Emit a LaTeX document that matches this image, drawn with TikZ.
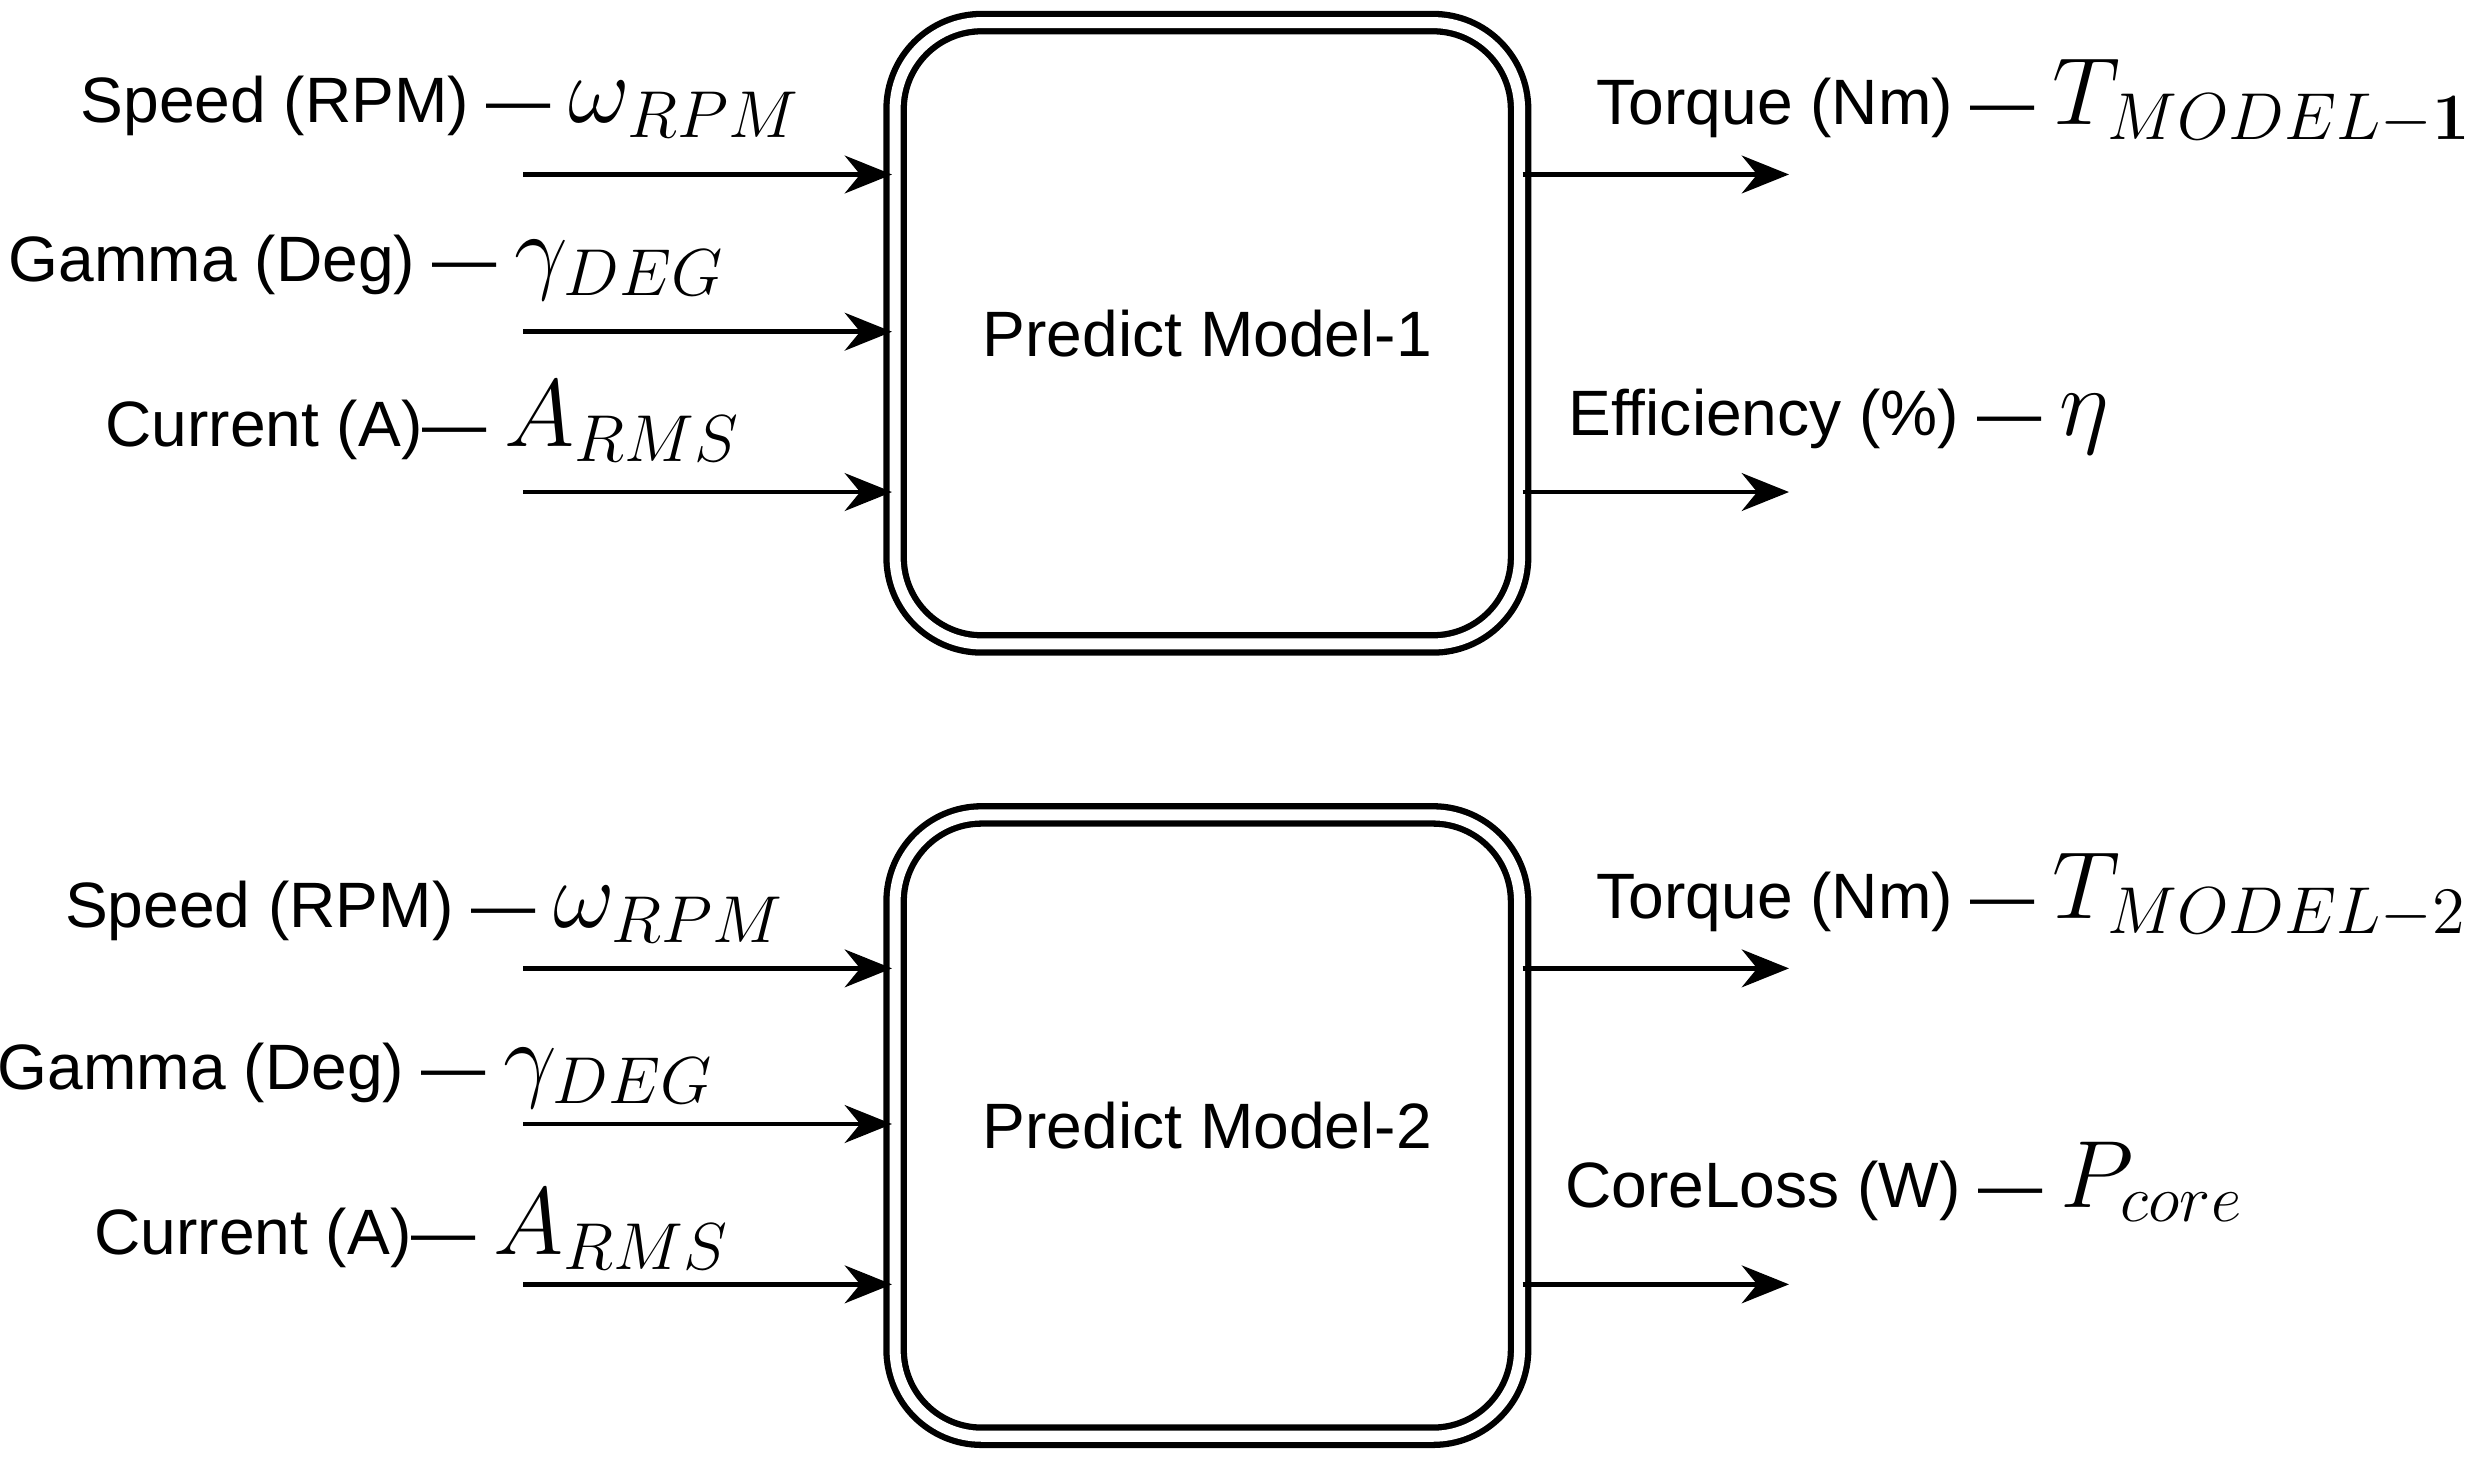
\documentclass[tikz,border=0pt]{standalone}
\usepackage{amsmath}
\usepackage{fontspec}
\setmainfont{Liberation Sans}
\usetikzlibrary{positioning}
\usetikzlibrary{arrows.meta}
\newcommand{\mth}[1]{{\fontsize{17.5}{20}\selectfont$#1$}}

\begin{document}
\begin{tikzpicture}[x=0.01cm, y=-0.01cm,
    box/.style={draw, rounded corners=0.55cm, double=white, double distance=0.07cm, line width=0.04cm, minimum width=3.97cm, minimum height=3.95cm, font=\fontsize{11.6}{14}\selectfont},
    lbl/.style={anchor=east, inner sep=0pt, font=\fontsize{11.6}{14}\selectfont},
    rlbl/.style={anchor=west, inner sep=0pt, font=\fontsize{11.6}{14}\selectfont},
    arr/.style={-{Stealth[length=0.3cm, width=0.24cm]}, line width=0.03cm}]
    \useasboundingbox (0,0) rectangle (1568,943);

    % model 1
    \node[box] (m1) at (768, 212) {Predict Model-1};
    \coordinate (a1) at (333, 111);
    \coordinate (b1) at (333, 211);
    \coordinate (c1) at (333, 313);
    \coordinate (t1) at (1138, 111);
    \coordinate (e1) at (1138, 313);
    \draw[arr] (a1) -- (a1 -| m1.west);
    \draw[arr] (b1) -- (b1 -| m1.west);
    \draw[arr] (c1) -- (c1 -| m1.west);
    \draw[arr] (t1 -| m1.east) -- (t1);
    \draw[arr] (e1 -| m1.east) -- (e1);
    \node[lbl] (la1) at (510, 68) {Speed (RPM) --- \mth{\omega_{RPM}}};
    \node[lbl] (lb1) at (462, 170) {Gamma (Deg) --- \mth{\gamma_{DEG}}};
    \node[lbl] (lc1) at (472, 268) {Current (A)--- \mth{A_{RMS}}};
    \node[rlbl] (lt1) at (1015, 65) {Torque (Nm) --- \mth{T_{MODEL-\boldsymbol{1}}}};
    \node[rlbl] (le1) at (997, 268) {Efficiency (\%) --- \mth{\eta}};

    % model 2
    \node[box] (m2) at (768, 716) {Predict Model-2};
    \coordinate (a2) at (333, 616);
    \coordinate (b2) at (333, 715);
    \coordinate (c2) at (333, 817);
    \coordinate (t2) at (1138, 616);
    \coordinate (p2) at (1138, 817);
    \draw[arr] (a2) -- (a2 -| m2.west);
    \draw[arr] (b2) -- (b2 -| m2.west);
    \draw[arr] (c2) -- (c2 -| m2.west);
    \draw[arr] (t2 -| m2.east) -- (t2);
    \draw[arr] (p2 -| m2.east) -- (p2);
    \node[lbl] (la2) at (500, 580) {Speed (RPM) --- \mth{\omega_{RPM}}};
    \node[lbl] (lb2) at (455, 684) {Gamma (Deg) --- \mth{\gamma_{DEG}}};
    \node[lbl] (lc2) at (465, 782) {Current (A)--- \mth{A_{RMS}}};
    \node[rlbl] (lt2) at (1015, 570) {Torque (Nm) --- \mth{T_{MODEL-2}}};
    \node[rlbl] (lp2) at (995, 752) {CoreLoss (W) --- \mth{P_{core}}};
\end{tikzpicture}
\end{document}
